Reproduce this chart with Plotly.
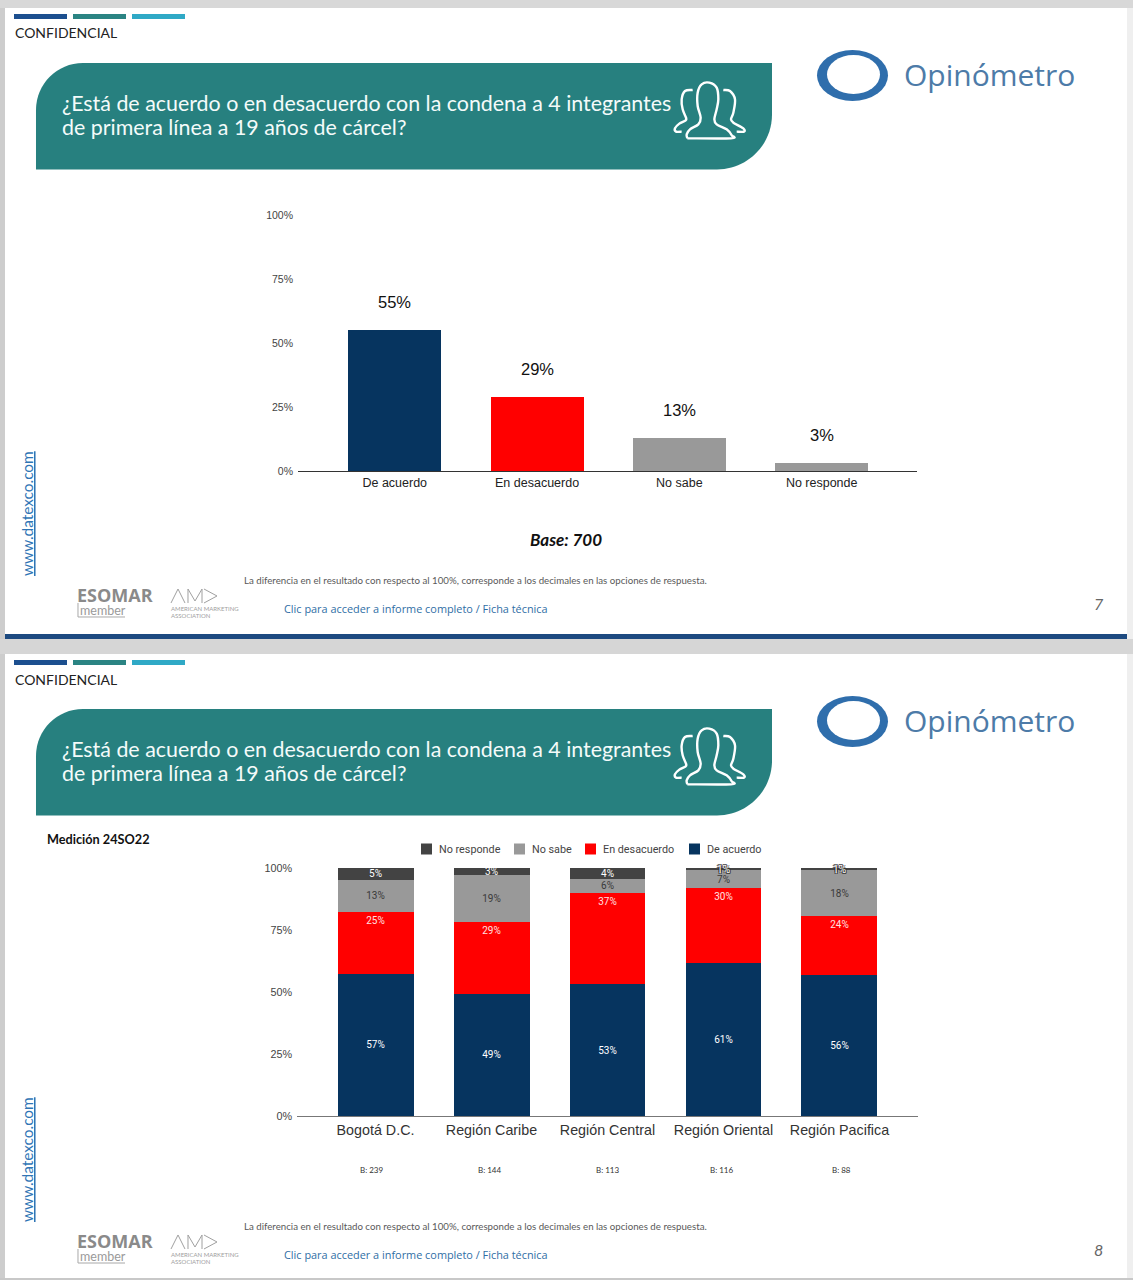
import plotly.graph_objects as go

W, H = 1133, 1280

# ---------- data ----------
single_categories = ["De acuerdo", "En desacuerdo", "No sabe", "No responde"]
single_values = [55, 29, 13, 3]
single_labels = ["55%", "29%", "13%", "3%"]

regions = ["Bogotá D.C.", "Región Caribe", "Región Central", "Región Oriental", "Región Pacifica"]
de_acuerdo = [57.3, 49.2, 53.2, 61.6, 56.8]
en_desacuerdo = [25.0, 29.0, 36.8, 30.4, 23.9]
no_sabe = [12.9, 19.0, 5.7, 7.0, 18.4]
no_responde = [4.8, 2.8, 4.3, 1.0, 0.9]
de_acuerdo_labels = ["57%", "49%", "53%", "61%", "56%"]
en_desacuerdo_labels = ["25%", "29%", "37%", "30%", "24%"]
no_sabe_labels = ["13%", "19%", "6%", "7%", "18%"]
no_responde_labels = ["5%", "3%", "4%", "1%", "1%"]
bases = ["B: 239", "B: 144", "B: 113", "B: 116", "B: 88"]
base_x = [371.5, 490, 608, 721.5, 841]

legend_names = ["No responde", "No sabe", "En desacuerdo", "De acuerdo"]
legend_x = [421, 514, 585, 689]

NAVY, RED, GREY, DARK = "#06345f", "#ff0000", "#999999", "#434343"
legend_colors = [DARK, GREY, RED, NAVY]
TEAL = "#27807f"
QUESTION = ["¿Está de acuerdo o en desacuerdo con la condena a 4 integrantes",
            "de primera línea a 19 años de cárcel?"]


def px(x):
    return x / W


def py(y):
    return 1 - y / H


shapes, annos = [], []


def rect(x0, y0, x1, y1, color):
    shapes.append(dict(type="rect", xref="paper", yref="paper", x0=px(x0), x1=px(x1), y0=py(y0), y1=py(y1),
                       fillcolor=color, line_width=0, layer="below"))


def ell(x0, y0, x1, y1, color):
    shapes.append(dict(type="circle", xref="paper", yref="paper", x0=px(x0), x1=px(x1), y0=py(y0), y1=py(y1),
                       fillcolor=color, line_width=0, layer="below"))


def P(x, y):
    return f"{px(x):.5f},{py(y):.5f}"


def poly(points, color, width=2, close=False):
    d = "M " + " L ".join(P(x, y) for x, y in points) + (" Z" if close else "")
    shapes.append(dict(type="path", xref="paper", yref="paper", path=d, line=dict(color=color, width=width),
                       fillcolor="rgba(0,0,0,0)", layer="below"))


def smooth(points, color, width=2):
    d = "M " + P(*points[0])
    for i in range(len(points) - 1):
        p0 = points[max(i - 1, 0)]
        p1 = points[i]
        p2 = points[i + 1]
        p3 = points[min(i + 2, len(points) - 1)]
        c1 = (p1[0] + (p2[0] - p0[0]) / 6, p1[1] + (p2[1] - p0[1]) / 6)
        c2 = (p2[0] - (p3[0] - p1[0]) / 6, p2[1] - (p3[1] - p1[1]) / 6)
        d += f" C {P(*c1)} {P(*c2)} {P(*p2)}"
    shapes.append(dict(type="path", xref="paper", yref="paper", path=d, line=dict(color=color, width=width),
                       fillcolor="rgba(0,0,0,0)", layer="below"))


def text(x, y, s, size, color, family="Lato", anchor="left", angle=0):
    if anchor == "left":
        x -= 2
    annos.append(dict(xref="paper", yref="paper", x=px(x), y=py(y), text=s, showarrow=False, xanchor=anchor,
                      yanchor="middle", textangle=angle, font=dict(size=size, color=color, family=family)))


def teal_box(dy):
    x0, x1, y0, y1, r1, r2 = 36, 772, 63 + dy, 169.5 + dy, 47, 55
    k = 0.5523
    d = (f"M {P(x0, y1)} L {P(x0, y0 + r1)} C {P(x0, y0 + r1 - k * r1)} {P(x0 + r1 - k * r1, y0)} {P(x0 + r1, y0)} "
         f"L {P(x1, y0)} L {P(x1, y1 - r2)} C {P(x1, y1 - r2 + k * r2)} {P(x1 - r2 + k * r2, y1)} {P(x1 - r2, y1)} Z")
    shapes.append(dict(type="path", xref="paper", yref="paper", path=d, line_width=0, fillcolor=TEAL, layer="below"))


def icon(dy):
    def m(seq):
        return [(670 + a / 3, 75 + b / 3 + dy) for a, b in seq]
    smooth(m([(52, 190), (50, 178), (60, 163), (85, 148), (92, 128), (83, 93), (83, 53), (95, 28), (118, 23), (140, 38),
              (145, 73), (140, 103), (133, 133), (140, 148), (170, 163), (185, 181), (183, 190), (52, 190)]), "white", 2.4)
    smooth(m([(68, 45), (45, 48), (35, 73), (38, 103), (48, 128), (47, 136), (28, 146), (15, 160), (18, 170), (35, 170)]), "white", 2.4)
    smooth(m([(160, 45), (180, 48), (195, 73), (190, 113), (183, 133), (190, 143), (220, 160), (222, 170), (200, 170)]), "white", 2.4)


def slide(dy, page, bottom):
    rect(5, 8 + dy, 1127, bottom, "white")
    rect(14, 14 + dy, 67, 19 + dy, "#1c4f8f")
    rect(73, 14 + dy, 126, 19 + dy, "#2b8483")
    rect(132, 14 + dy, 185, 19 + dy, "#2fa9c6")
    text(15, 33 + dy, "CONFIDENCIAL", 14, "#222222")
    teal_box(dy)
    text(62, 103 + dy, QUESTION[0], 21.4, "#f4fbfa")
    text(62, 127 + dy, QUESTION[1], 21.4, "#f4fbfa")
    icon(dy)
    ell(817, 50 + dy, 888, 101 + dy, "#2f6eac")
    ell(827, 55 + dy, 880, 94 + dy, "white")
    text(903.5, 74 + dy, "Opinómetro", 30, "#4d7ba8", "Open Sans")
    text(27, 514 + dy, "<u>www.datexco.com</u>", 15.4, "#2f75b5", "Lato", "center", -90)
    text(244, 580 + dy, "La diferencia en el resultado con respecto al 100%, corresponde a los decimales en las opciones de respuesta.",
         9.7, "#595959")
    text(284, 608 + dy, "Clic para acceder a informe completo / Ficha técnica", 10.9, "#2f6ea5", "Open Sans")
    text(1098.5, 603.5 + dy, f"<i>{page}</i>", 16, "#666666", "Lato", "center")
    text(77, 595 + dy, "<b>ESOMAR</b>", 18, "#8a8a8a", "Open Sans")
    text(80, 610 + dy, "member", 12.5, "#9a9a9a", "Lato")
    poly([(78, 603 + dy), (78, 617 + dy), (125, 617 + dy)], "#a8a8a8", 1)
    poly([(171, 603 + dy), (178, 589 + dy), (185, 603 + dy)], "#a0a0a0", 1)
    poly([(188, 603 + dy), (188, 589 + dy), (195, 601 + dy), (202, 589 + dy), (202, 603 + dy)], "#a0a0a0", 1)
    poly([(204, 589 + dy), (217, 596 + dy), (204, 603 + dy)], "#a0a0a0", 1)
    text(171, 608.5 + dy, "AMERICAN MARKETING", 6, "#a0a0a0", "Lato")
    text(171, 615 + dy, "ASSOCIATION", 6, "#a0a0a0", "Lato")


# ---------- page decoration ----------
rect(0, 0, 5, H, "#cdcdcd")
rect(1127, 0, W, H, "#efefef")
rect(0, 0, W, 8, "#d8d8d8")
rect(0, 639, W, 654, "#d6d6d6")
rect(0, 1278, W, H, "#c8c8c8")
slide(0, 7, 634)
rect(5, 634, 1127, 639, "#1d4a80")
slide(646, 8, 1278)

text(566, 539.5, "<b><i>Base: 700</i></b>", 17, "#111111", "Lato", "center")
text(47, 839, "<b>Medición 24SO22</b>", 12.7, "#111111", "Lato")
for bx, b in zip(base_x, bases):
    text(bx, 1170, b, 8, "#333333", "Lato", "center")
for lx, name, col in zip(legend_x, legend_names, legend_colors):
    rect(lx, 843.5, lx + 11, 854.5, col)
    text(lx + 18, 849, name, 10.8, "#444444", "Roboto")

fig = go.Figure()

# ---------- top chart ----------
fig.add_trace(go.Bar(x=single_categories, y=single_values, width=0.654, marker=dict(color=[NAVY, RED, GREY, GREY], line_width=0),
                     xaxis="x", yaxis="y", showlegend=False, hoverinfo="skip"))
for c, v, l in zip(single_categories, single_values, single_labels):
    annos.append(dict(xref="x", yref="y", x=c, y=v, text=l, showarrow=False, yshift=28, yanchor="middle",
                      font=dict(size=16.5, color="#111111", family="Liberation Sans")))

# ---------- bottom chart ----------
HALO = "-1px -1px 0 #333, 1px -1px 0 #333, -1px 1px 0 #333, 1px 1px 0 #333"
stack = [
    ("De acuerdo", de_acuerdo, de_acuerdo_labels, NAVY, ["white"] * 5, "middle"),
    ("En desacuerdo", en_desacuerdo, en_desacuerdo_labels, RED, ["#ffe0e0"] * 5, "end"),
    ("No sabe", no_sabe, no_sabe_labels, GREY, ["#3a3a3a"] * 5, "middle"),
    ("No responde", no_responde, no_responde_labels, DARK, ["#ffffff"] * 5, "middle"),
]
for name, vals, labs, color, tc, anchor in stack:
    shadow = [HALO if lab == "1%" else "none" for lab in labs]
    fig.add_trace(go.Bar(
        name=name, x=regions, y=vals, width=0.655, text=labs, textposition="inside", insidetextanchor=anchor,
        constraintext="none", textangle=0, cliponaxis=False, showlegend=False,
        textfont=dict(size=10, color=tc, family="Roboto", shadow=shadow),
        marker=dict(color=color, line_width=0), xaxis="x2", yaxis="y2", hoverinfo="skip"))

fig.update_layout(
    width=W, height=H, autosize=False, margin=dict(l=0, r=0, t=0, b=0, autoexpand=False),
    paper_bgcolor="#e2e2e2", plot_bgcolor="rgba(0,0,0,0)",
    barmode="stack", showlegend=False, shapes=shapes, annotations=annos,
    xaxis=dict(domain=[px(298), px(917)], range=[-0.68, 3.67], anchor="y", showline=True, linecolor="#333333", linewidth=1,
               ticks="", tickfont=dict(size=12.5, color="#222222", family="Liberation Sans"), ticklabelstandoff=0,
               showgrid=False, zeroline=False, type="category", categoryorder="array", categoryarray=single_categories),
    yaxis=dict(domain=[py(471), py(215)], range=[0, 100], anchor="x", tickvals=[0, 25, 50, 75, 100],
               ticktext=["0%", "25%", "50%", "75%", "100%"], showgrid=False, zeroline=False, showline=False, ticks="",
               tickfont=dict(size=10.5, color="#444444", family="Liberation Sans"), ticklabelstandoff=4),
    xaxis2=dict(domain=[px(297), px(918)], range=[-0.677, 4.677], anchor="y2", showline=True, linecolor="#777777", linewidth=1,
                ticks="", tickfont=dict(size=14.3, color="#333333", family="Liberation Sans"), ticklabelstandoff=1,
                showgrid=False, zeroline=False, type="category", categoryorder="array", categoryarray=regions),
    yaxis2=dict(domain=[py(1116), py(868)], range=[0, 100], anchor="x2", tickvals=[0, 25, 50, 75, 100],
                ticktext=["0%", "25%", "50%", "75%", "100%"], showgrid=False, zeroline=False, showline=False, ticks="",
                tickfont=dict(size=10.8, color="#444444", family="Liberation Sans"), ticklabelstandoff=4),
)

fig.write_html("out.html", config=dict(displayModeBar=False, responsive=False),
               post_script="document.body.style.margin='0';")
